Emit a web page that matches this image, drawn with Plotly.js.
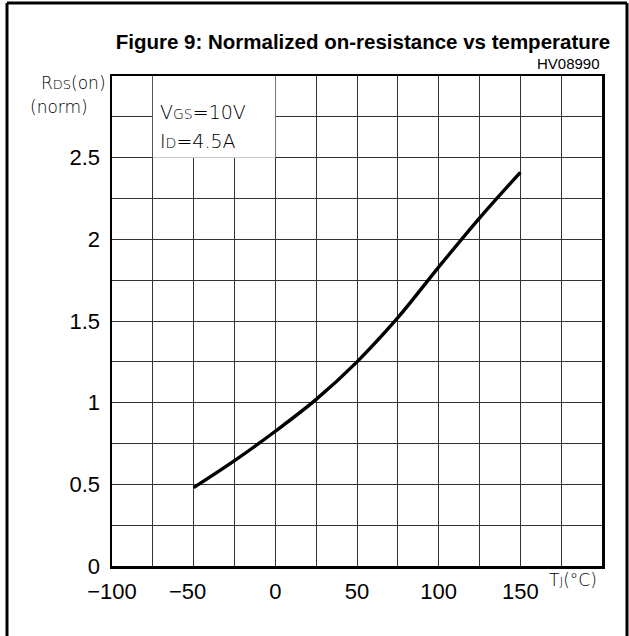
<!DOCTYPE html>
<html>
<head>
<meta charset="utf-8">
<script src="https://cdn.plot.ly/plotly-3.0.1.min.js"></script>
<style>html,body{margin:0;padding:0;background:#fff;}#chart{width:629px;height:636px;}</style>
</head>
<body>
<div id="chart"></div>
<script>
// Data
const tempC = [-50, -25, 0, 25, 50, 75, 100, 125, 150];
const rdsNorm = [0.48, 0.645, 0.825, 1.02, 1.25, 1.52, 1.83, 2.13, 2.41];

const xTickVals = [-100, -75, -50, -25, 0, 25, 50, 75, 100, 125, 150, 175, 200];
const xTickText = ['\u2212100', '', '\u221250\u00a0\u00a0', '', '0', '', '50', '', '100', '', '150', '', ''];
const yTickVals = [0, 0.25, 0.5, 0.75, 1, 1.25, 1.5, 1.75, 2, 2.25, 2.5, 2.75, 3];
const yTickText = ['0', '', '0.5', '', '1', '', '1.5', '', '2', '', '2.5', '', ''];

const titleText = '<b>Figure 9: Normalized on-resistance vs temperature</b>';
const codeText = 'HV08990';
const small = s => '<span style="font-size:13px">' + s + '</span>';
const yLabel1 = 'R' + small('DS') + '(on)';
const yLabel2 = '(norm)';
const xLabel = 'T' + small('J') + '(\u00B0C)';
const cond1 = 'V<span style="font-size:14px">GS</span>=10V';
const cond2 = 'I<span style="font-size:14px">D</span>=4.5A';

const thinFont = {family: 'DejaVu Sans, sans-serif', size: 17, color: '#000', weight: 200};
const tickFont = {family: 'Liberation Sans, Arial, sans-serif', size: 22, color: '#000'};

const trace = {
  x: tempC, y: rdsNorm, type: 'scatter', mode: 'lines',
  line: {color: '#000', width: 3.4, shape: 'spline', smoothing: 1},
  hoverinfo: 'skip', showlegend: false
};

const layout = {
  width: 629, height: 636,
  margin: {l: 112, r: 27, t: 76, b: 70},
  paper_bgcolor: '#fff', plot_bgcolor: '#fff',
  showlegend: false,
  title: {text: titleText, font: {family: 'Liberation Sans, Arial, sans-serif', size: 20.5, color: '#000'},
          x: 0.577, xanchor: 'center', y: 0.934, yanchor: 'middle'},
  xaxis: {
    range: [-100, 200], tickmode: 'array', tickvals: xTickVals, ticktext: xTickText,
    showgrid: true, gridcolor: '#333', gridwidth: 1, zeroline: false,
    showline: true, linecolor: '#000', linewidth: 2.5, mirror: true,
    ticks: '', ticklabelstandoff: 4, tickfont: tickFont, fixedrange: true
  },
  yaxis: {
    range: [0, 3], tickmode: 'array', tickvals: yTickVals, ticktext: yTickText,
    showgrid: true, gridcolor: '#333', gridwidth: 1, zeroline: false,
    showline: true, linecolor: '#000', linewidth: 2.5, mirror: true,
    ticks: '', ticklabelstandoff: 5, tickfont: tickFont, fixedrange: true
  },
  shapes: [
    {type: 'rect', xref: 'x', yref: 'y', x0: -75, x1: 0, y0: 2.5, y1: 3,
     fillcolor: '#fff', line: {width: 0}, layer: 'between'},
    {type: 'line', xref: 'paper', yref: 'paper', x0: -0.2143, x1: -0.2143, y0: 1.149, y1: -0.2,
     line: {color: '#000', width: 3}},
    {type: 'line', xref: 'paper', yref: 'paper', x0: 1.051, x1: 1.051, y0: 1.149, y1: -0.2,
     line: {color: '#000', width: 3}},
    {type: 'line', xref: 'paper', yref: 'paper', x0: -0.2143, x1: 1.051, y0: 1.149, y1: 1.149,
     line: {color: '#000', width: 3}}
  ],
  annotations: [
    {text: codeText, xref: 'paper', yref: 'paper', x: 1.0, y: 1.026, xanchor: 'right', yanchor: 'middle',
     showarrow: false, font: {family: 'Liberation Sans, Arial, sans-serif', size: 15, color: '#000'}},
    {text: yLabel1, xref: 'paper', yref: 'paper', x: -0.008, y: 0.985, xanchor: 'right', yanchor: 'middle',
     showarrow: false, font: thinFont},
    {text: yLabel2, xref: 'paper', yref: 'paper', x: -0.045, y: 0.936, xanchor: 'right', yanchor: 'middle',
     showarrow: false, font: thinFont},
    {text: xLabel, xref: 'paper', yref: 'paper', x: 0.887, y: -0.028, xanchor: 'left', yanchor: 'middle',
     showarrow: false, font: thinFont},
    {text: cond1, xref: 'x', yref: 'y', x: -72, y: 2.78, xanchor: 'left', yanchor: 'middle',
     showarrow: false, font: {family: 'DejaVu Sans, sans-serif', size: 19, color: '#000', weight: 200}},
    {text: cond2, xref: 'x', yref: 'y', x: -72, y: 2.6, xanchor: 'left', yanchor: 'middle',
     showarrow: false, font: {family: 'DejaVu Sans, sans-serif', size: 19, color: '#000', weight: 200}}
  ]
};

Plotly.newPlot('chart', [trace], layout, {staticPlot: true, displayModeBar: false});
</script>
</body>
</html>
